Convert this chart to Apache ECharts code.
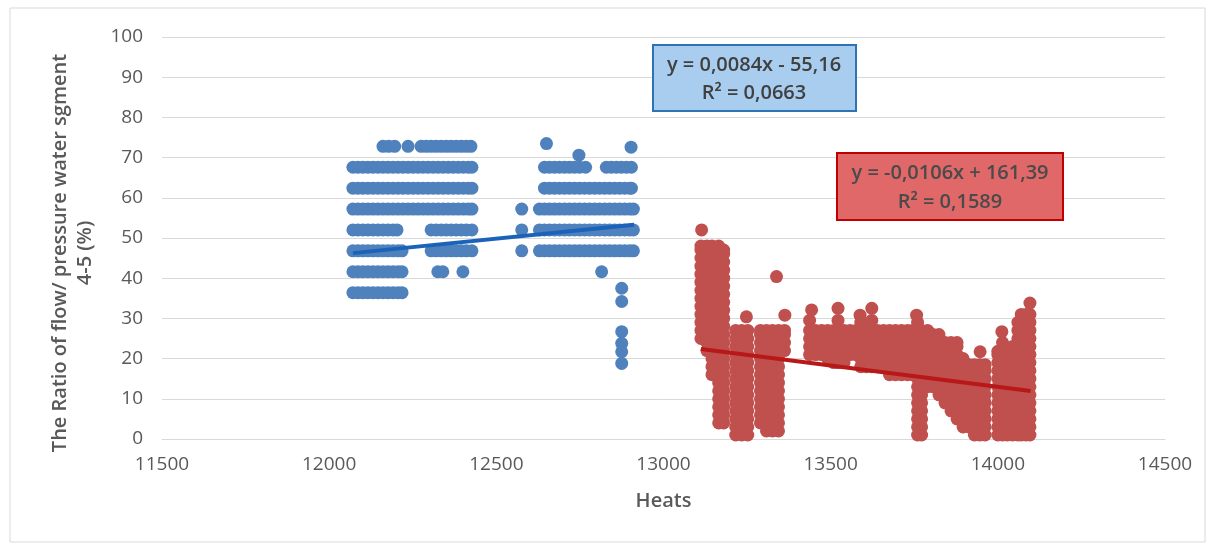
<!DOCTYPE html>
<html>
<head>
<meta charset="utf-8">
<script src="https://cdn.jsdelivr.net/npm/echarts@6/dist/echarts.min.js"></script>
<style>
html,body{margin:0;padding:0;background:#fff;}
#chart{width:1215px;height:544px;}
</style>
</head>
<body>
<div id="chart"></div>
<script>
// ---------- data ----------
const xTicks = [11500, 12000, 12500, 13000, 13500, 14000, 14500];
const yTicks = [0, 10, 20, 30, 40, 50, 60, 70, 80, 90, 100];

// Blue series: horizontal bands (y level -> x values of heats)
const blueBandLevels = [36.4, 41.6, 46.8, 52.0, 57.2, 62.4, 67.6, 72.8];
const blueBand36 = [12071,12086,12101,12116,12131,12146,12161,12176,12191,12206,12218];
const blueBand41 = [12071,12086,12101,12116,12131,12146,12161,12176,12191,12206,12218,12325,12340,12400,12815];
const blueBand46 = [12071,12086,12101,12116,12131,12146,12161,12176,12191,12206,12218,
  12305,12320,12335,12350,12365,12380,12395,12410,12427,
  12576,12629,12644,12659,12674,12689,12704,12719,12734,12749,12764,12779,12794,12809,12824,12839,12854,12869,12884,12899,12910];
const blueBand52 = [12071,12086,12101,12116,12131,12146,12161,12176,12191,12203,
  12305,12320,12335,12350,12365,12380,12395,12410,12427,
  12576,12629,12644,12659,12674,12689,12704,12719,12734,12749,12764,12779,12794,12809,12824,12839,12854,12869,12884,12899,12910];
const blueBand57 = [12071,12086,12101,12116,12131,12146,12161,12176,12191,12206,12221,12236,12251,12266,12281,12296,12311,12326,12341,12356,12371,12386,12401,12416,12427,
  12576,12629,12644,12659,12674,12689,12704,12719,12734,12749,12764,12779,12794,12809,12824,12839,12854,12869,12884,12899,12910];
const blueBand62 = [12071,12086,12101,12116,12131,12146,12161,12176,12191,12206,12221,12236,12251,12266,12281,12296,12311,12326,12341,12356,12371,12386,12401,12416,12427,
  12644,12659,12674,12689,12704,12719,12734,12749,12764,12779,12794,12809,12824,12839,12854,12869,12884,12899,12904];
const blueBand67 = [12071,12086,12101,12116,12131,12146,12161,12176,12191,12206,12221,12236,12251,12266,12281,12296,12311,12326,12341,12356,12371,12386,12401,12416,12427,
  12644,12659,12674,12689,12704,12719,12734,12749,12767,12829,12844,12859,12874,12889,12904];
const blueBand72 = [12161,12178,12196,12236,12275,12290,12305,12320,12335,12350,12365,12380,12395,12410,12424];
const blueSingles = [[12650,73.5],[12747,70.6],[12903,72.6],[12875,37.5],[12875,34.2],[12875,26.7],[12875,23.8],[12875,21.7],[12875,18.8]];

// Red series: columns of heats (x -> y values)
const redCols = [
  [13112,[25,27,29,31,33,35,37,39,41,43,45,47,48]],
  [13130,[22,24,26,28,30,32,34,36,38,40,42,44,46,48]],
  [13145,[16,18,20,22,24,26,28,30,32,34,36,38,40,42,44,46,48]],
  [13165,[4,6,8,10,12,14,16,18,20,22,24,26,28,30,32,34,36,38,40,42,44,46,48]],
  [13180,[4,6,8,10,12,14,16,18,20,22,24,26,28,30,32,34,36,38,40,42,44,46,47]],
  [13216,[1,3,5,7,9,11,13,15,17,19,21,23,25,27]],
  [13234,[1,3,5,7,9,11,13,15,17,19,21,23,25,27]],
  [13252,[1,3,5,7,9,11,13,15,17,19,21,23,25,27]],
  [13290,[4,6,8,10,12,14,16,18,20,22,24,26,27]],
  [13308,[2,4,6,8,10,12,14,16,18,20,22,24,26,27]],
  [13326,[2,4,6,8,10,12,14,16,18,20,22,24,26,27]],
  [13344,[2,4,6,8,10,12,14,16,18,20,22,24,26,27]],
  [13362,[22,24,26,27]],
  [13437,[21,23,25,27,29.5]],
  [13455,[21,23,25,27]],
  [13473,[21,23,25,27]],
  [13491,[20,22,24,26,27]],
  [13509,[19,21,23,25,27]],
  [13522,[19,21,23,25,27,29.5]],
  [13540,[19,21,23,25,27]],
  [13558,[21,23,25,27]],
  [13576,[21,23,25,27]],
  [13590,[18,20,22,24,26,27,29]],
  [13606,[18,20,22,24,26,27]],
  [13623,[18,20,22,24,26,27,29.5]],
  [13640,[18,20,22,24,26,27]],
  [13658,[18,20,22,24,26,27]],
  [13676,[16,18,20,22,24,26,27]],
  [13694,[16,18,20,22,24,26,27]],
  [13712,[16,18,20,22,24,26,27]],
  [13730,[16,18,20,22,24,26,27]],
  [13745,[16,18,20,22,24,26,27]],
  [13760,[1,3,5,7,9,11,13,15,17,19,21,23,25,27,29]],
  [13772,[1,3,5,7,9,11,13,15,17,19,21,23,25,27]],
  [13790,[13,15,17,19,21,23,25,27]],
  [13806,[13,15,17,19,21,23,25,26]],
  [13824,[11,13,15,17,19,21,23,25,26]],
  [13842,[9,11,13,15,17,19,21,23,24]],
  [13860,[7,9,11,13,15,17,19,21,23,24]],
  [13878,[5,7,9,11,13,15,17,19,21,23,24]],
  [13896,[3,5,7,9,11,13,15,17,19,20]],
  [13914,[3,5,7,9,11,13,15,17,18.5]],
  [13930,[1,3,5,7,9,11,13,15,17,18.5]],
  [13946,[1,3,5,7,9,11,13,15,17,18.5]],
  [13962,[1,3,5,7,9,11,13,15,17,18.5]],
  [14000,[1,3,5,7,9,11,13,15,17,19,21,21.8]],
  [14014,[1,3,5,7,9,11,13,15,17,19,21,22,24]],
  [14028,[1,3,5,7,9,11,13,15,17,19,21,22]],
  [14044,[1,3,5,7,9,11,13,15,17,19,21,23]],
  [14060,[1,3,5,7,9,11,13,15,17,19,21,23,25,27,29]],
  [14070,[1,3,5,7,9,11,13,15,17,19,21,23,25,27,29,31]],
  [14084,[1,3,5,7,9,11,13,15,17,19,21,23,25,27,29,31]],
  [14096,[1,3,5,7,9,11,13,15,17,19,21,23,25,27,29,31]]
];
const redSingles = [[13114,52.0],[13248,30.4],[13338,40.4],[13363,30.8],[13443,32.1],[13522,32.5],[13588,30.8],
  [13623,32.5],[13757,30.8],[13947,21.7],[14012,26.7],[14096,33.8]];

// Linear trend lines (end points from the printed equations)
const blueTrend = [[12071, 46.24], [12912, 53.30]];
const redTrend = [[13112, 22.40], [14098, 11.95]];
const blueEq = ['y = 0,0084x - 55,16', 'R² = 0,0663'];
const redEq = ['y = -0,0106x + 161,39', 'R² = 0,1589'];

// ---------- build ----------
const blueBands = [blueBand36, blueBand41, blueBand46, blueBand52, blueBand57, blueBand62, blueBand67, blueBand72];
const blueData = [];
blueBands.forEach((xs, i) => xs.forEach(x => blueData.push([x, blueBandLevels[i]])));
blueSingles.forEach(p => blueData.push(p));
const redData = [];
redCols.forEach(c => c[1].forEach(y => redData.push([c[0], y])));
redSingles.forEach(p => redData.push(p));

const FONT = '"Open Sans", Lato, "Liberation Sans", sans-serif';
const chart = echarts.init(document.getElementById('chart'));
chart.setOption({
  animation: false,
  backgroundColor: '#ffffff',
  grid: { left: 162, right: 50, top: 37, bottom: 105 },
  xAxis: {
    type: 'value', min: xTicks[0], max: xTicks[xTicks.length - 1], interval: 500,
    name: 'Heats', nameLocation: 'middle', nameGap: 52,
    nameTextStyle: { fontFamily: FONT, fontSize: 20, fontWeight: 600, color: '#595959' },
    axisLine: { show: true, lineStyle: { color: '#d9d9d9', width: 1 } },
    axisTick: { show: false },
    splitLine: { show: false },
    axisLabel: { fontFamily: FONT, fontSize: 19, color: '#595959', margin: 16, formatter: v => String(v) }
  },
  yAxis: {
    type: 'value', min: yTicks[0], max: yTicks[yTicks.length - 1], interval: 10,
    name: 'The Ratio of flow/ pressure water sgment\n4-5 (%)', nameLocation: 'middle', nameGap: 64,
    nameTextStyle: { fontFamily: FONT, fontSize: 20, fontWeight: 600, color: '#595959', lineHeight: 25, align: 'center', padding: [0, 30, 0, 0] },
    axisLine: { show: false }, axisTick: { show: false },
    splitLine: { lineStyle: { color: '#d9d9d9', width: 1 } },
    axisLabel: { fontFamily: FONT, fontSize: 19, color: '#595959', margin: 19, formatter: v => String(v) }
  },
  series: [
    { type: 'scatter', data: blueData, symbolSize: 13, itemStyle: { color: '#4f81bd', opacity: 1 }, z: 2, large: false },
    { type: 'scatter', data: redData, symbolSize: 13, itemStyle: { color: '#c0504d', opacity: 1 }, z: 2, large: false },
    { type: 'line', data: blueTrend, showSymbol: false, symbol: 'none', lineStyle: { color: '#1b63b8', width: 4 }, z: 5 },
    { type: 'line', data: redTrend, showSymbol: false, symbol: 'none', lineStyle: { color: '#b81818', width: 4 }, z: 5 }
  ],
  graphic: [
    { type: 'rect', shape: { x: 10, y: 8, width: 1195, height: 534 }, style: { fill: 'none', stroke: '#d9d9d9', lineWidth: 1 }, z: -1 },
    { type: 'rect', shape: { x: 653, y: 45, width: 203, height: 66 }, style: { fill: '#a9cdee', stroke: '#2e74b5', lineWidth: 2 }, z: 10 },
    { type: 'text', x: 754, y: 65, style: { text: blueEq[0], font: '600 20px ' + FONT, fill: '#404040', textAlign: 'center', textVerticalAlign: 'middle' }, z: 11 },
    { type: 'text', x: 754, y: 93, style: { text: blueEq[1], font: '600 20px ' + FONT, fill: '#404040', textAlign: 'center', textVerticalAlign: 'middle' }, z: 11 },
    { type: 'rect', shape: { x: 837, y: 153, width: 226, height: 67 }, style: { fill: '#e06868', stroke: '#c00000', lineWidth: 2 }, z: 10 },
    { type: 'text', x: 950, y: 173, style: { text: redEq[0], font: '600 20px ' + FONT, fill: '#4a4a4a', textAlign: 'center', textVerticalAlign: 'middle' }, z: 11 },
    { type: 'text', x: 950, y: 202, style: { text: redEq[1], font: '600 20px ' + FONT, fill: '#4a4a4a', textAlign: 'center', textVerticalAlign: 'middle' }, z: 11 }
  ]
});
</script>
</body>
</html>
